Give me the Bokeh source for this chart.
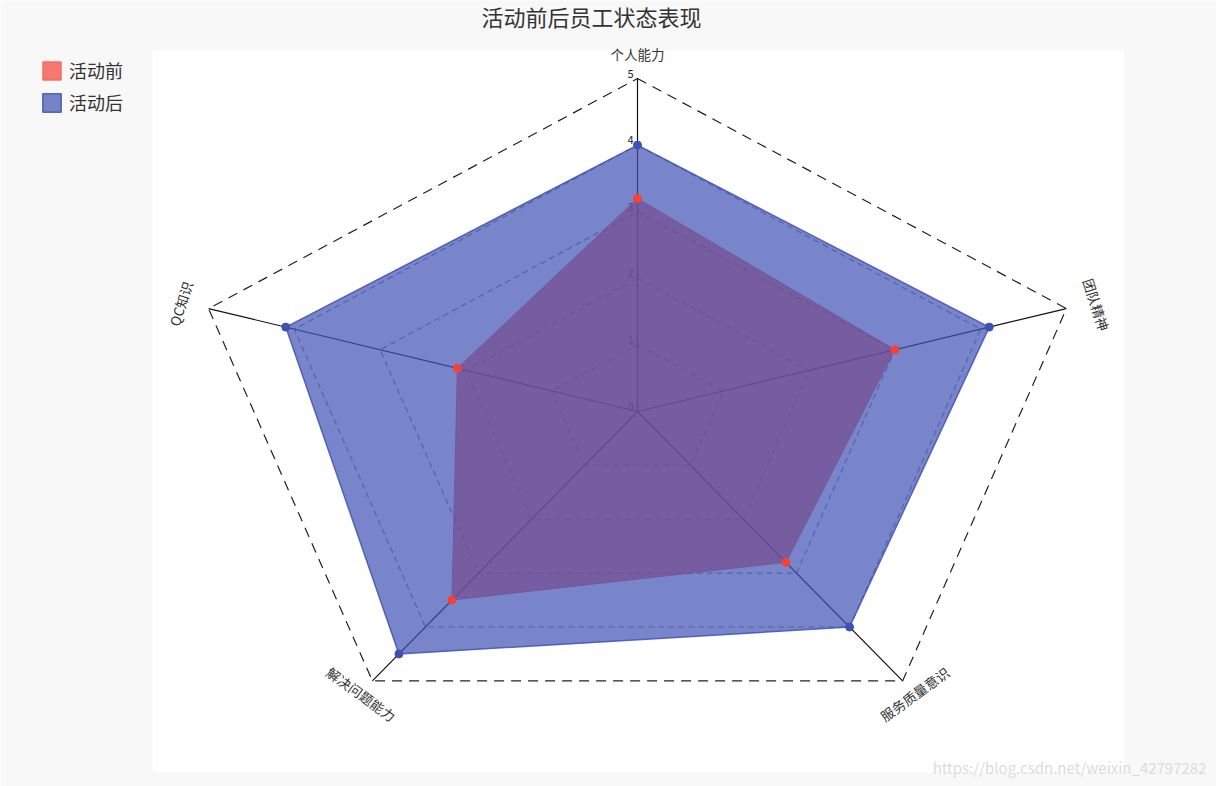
import numpy as np
from bokeh.plotting import figure
from bokeh.models import ColumnDataSource, Legend, LegendItem, BoxAnnotation
from bokeh.embed import file_html
from bokeh.resources import INLINE
from bokeh.core.properties import value

# ---------------- data ----------------
title_text = "活动前后员工状态表现"
categories = ["个人能力", "团队精神", "服务质量意识", "解决问题能力", "QC知识"]
series_names = ["活动前", "活动后"]
before = [3.2, 3.0, 2.8, 3.5, 2.1]
after = [4.0, 4.1, 4.0, 4.5, 4.1]
ticks = [0, 1, 2, 3, 4, 5]
max_value = 5
watermark = "https://blog.csdn.net/weixin_42797282"

# ---------------- layout / style ----------------
FONT = "Noto Sans CJK SC"
RED = "#f44336"
BLUE = "#3f51b5"
W, H = 1216, 786            # canvas size
CX, CY = 637, 411           # radar centre in canvas pixels
SX, SY = 90.2, 66.6         # pixels per value unit (horizontal, vertical)
PANEL = (152, 1124, 50, 772)  # white plotting panel: left, right, top, bottom (px)
label_offsets = [(0, -25), (30, -4), (12, 13), (-11, 13), (-28, -5)]  # px (x right, y down)


def px2x(px):
    return (px - CX) / SX


def py2y(py):
    return (CY - py) / SY


n = len(categories)
theta = np.deg2rad(90 - 360.0 / n * np.arange(n))
cx, sy_ = np.cos(theta), np.sin(theta)

p = figure(width=W, height=H,
           x_range=(px2x(0), px2x(W)), y_range=(py2y(H), py2y(0)),
           min_border=0, background_fill_color="#f8f8f8", border_fill_color="#f8f8f8",
           outline_line_color=None, x_axis_location=None, y_axis_location=None,
           output_backend="svg", toolbar_location=None)
p.grid.visible = False

# white panel behind the radar
p.add_layout(BoxAnnotation(left=px2x(PANEL[0]), right=px2x(PANEL[1]),
                           top=py2y(PANEL[2]), bottom=py2y(PANEL[3]),
                           fill_color="white", fill_alpha=1, line_color=None, level="underlay"))

# title
p.text(x=[px2x(591)], y=[py2y(15)], text=[title_text], text_align="center", text_baseline="middle",
       text_font=value(FONT), text_font_size="22px", text_color="#333333")

# grid pentagons
ring_xs, ring_ys = [], []
for t in ticks[1:]:
    ring_xs.append(list(t * cx) + [t * cx[0]])
    ring_ys.append(list(t * sy_) + [t * sy_[0]])
inner = ColumnDataSource(dict(xs=ring_xs[:-1], ys=ring_ys[:-1]))
p.multi_line("xs", "ys", source=inner, line_color="#8a8a8a", line_width=1.2, line_dash="6 4")
p.line(ring_xs[-1], ring_ys[-1], line_color="#222222", line_width=1.2, line_dash="10 7")

# axis spokes
p.segment(x0=[0] * n, y0=[0] * n, x1=list(max_value * cx), y1=list(max_value * sy_),
          line_color="#111111", line_width=1.2)

# tick labels on the top spoke
p.text(x=[0] * len(ticks), y=ticks, text=[str(t) for t in ticks],
       x_offset=-4, y_offset=-5, text_align="right", text_baseline="middle",
       text_font=value(FONT), text_font_size="11px", text_color="#222222")

# series polygons
src_b = ColumnDataSource(dict(x=list(np.array(before) * cx), y=list(np.array(before) * sy_)))
src_a = ColumnDataSource(dict(x=list(np.array(after) * cx), y=list(np.array(after) * sy_)))
r_b = p.patch("x", "y", source=src_b, fill_color=RED, fill_alpha=0.7,
              line_color=RED, line_alpha=0.7, line_width=1)
r_a = p.patch("x", "y", source=src_a, fill_color=BLUE, fill_alpha=0.7,
              line_color=BLUE, line_alpha=0.85, line_width=1.5)
p.scatter("x", "y", source=src_b, size=8, fill_color=RED, line_color=RED)
p.scatter("x", "y", source=src_a, size=8, fill_color=BLUE, line_color=BLUE)

# category labels (tangent to the radar, kept readable)
angles = []
for th in np.rad2deg(theta):
    a = ((th - 90 + 180) % 360) - 180
    if a < -90:
        a += 180
    elif a > 90:
        a -= 180
    angles.append(np.deg2rad(a))
p.text(x=list(max_value * cx), y=list(max_value * sy_), text=categories, angle=angles,
       x_offset=[o[0] for o in label_offsets], y_offset=[o[1] for o in label_offsets],
       text_align="center", text_baseline="middle",
       text_font=value(FONT), text_font_size="13.5px", text_color="#333333")

# legend
legend = Legend(items=[LegendItem(label=series_names[0], renderers=[r_b]),
                       LegendItem(label=series_names[1], renderers=[r_a])],
                location=(40, 671), background_fill_alpha=0, border_line_alpha=0,
                label_text_font=FONT, label_text_font_size="18px", label_text_color="#333333",
                glyph_width=23, glyph_height=23, label_height=23, spacing=6,
                padding=0, margin=0, label_standoff=6)
p.add_layout(legend)

# watermark
p.text(x=[px2x(1206)], y=[py2y(767)], text=[watermark], text_align="right",
       text_baseline="middle", text_font=value(FONT), text_font_size="15px",
       text_color="#dcdcdc")

open("out.html", "w").write(file_html(p, INLINE))
